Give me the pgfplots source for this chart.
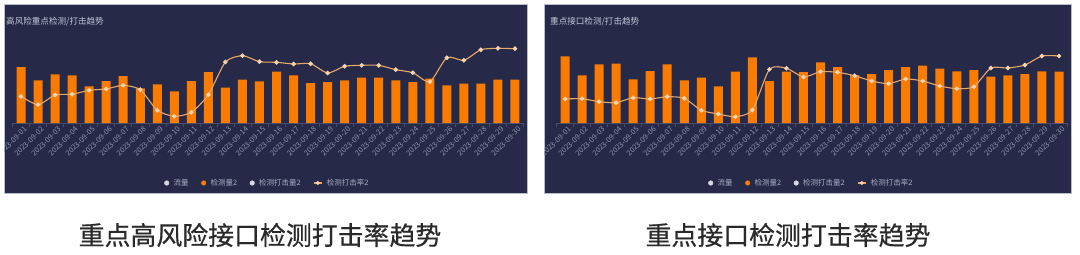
\documentclass[border=0pt]{standalone}
\usepackage{fontspec}
\setmainfont{Noto Sans CJK SC}
\newfontfamily\capfont{Noto Sans CJK SC}[FakeBold=0.5]
\usepackage{pgfplots}
\pgfplotsset{compat=1.18}
\usepackage{pgfplotstable}

\definecolor{panelbg}{HTML}{262A48}
\definecolor{panelbd}{HTML}{B9BCC9}
\definecolor{barc}{HTML}{F97B00}
\definecolor{linec}{HTML}{E8A86A}
\definecolor{markc}{HTML}{F6D3AE}
\definecolor{labelc}{HTML}{8C92AC}
\definecolor{titlec}{HTML}{C3C7D8}
\definecolor{legc}{HTML}{A9AEC4}
\definecolor{dotc}{HTML}{D6D8E0}
\definecolor{tickc}{HTML}{454B6A}
\definecolor{capc}{HTML}{2A2A2A}

\pgfplotstableread{
x bar rate
0 56 26.7
1 42.7 18.3
2 48.7 28
3 47.7 28.7
4 36.7 32.7
5 42 34
6 47 37.7
7 34.7 33.3
8 38.7 12.7
9 31.7 6.7
10 42 10.7
11 51 28.3
12 35.3 61
13 43.3 67.3
14 41.7 61.3
15 51.3 60.7
16 47.7 59
17 40 59.3
18 41 50
19 42.7 56.7
20 45.3 57.7
21 45.3 57.7
22 42.7 53.3
23 41 50.3
24 44.3 41.3
25 37.7 65.3
26 39.3 62.7
27 39.3 73.3
28 43.3 74.7
29 43.3 74.3
}\dataA

\pgfplotstableread{
x bar rate
0 66.7 24
1 47.7 24.3
2 58.7 21.3
3 59.3 20.3
4 43.7 25.3
5 52 24
6 58.7 26.3
7 42.7 24.7
8 45.3 12.7
9 36.7 9
10 51.3 6.3
11 65.7 13
12 42 53.7
13 51.3 54.7
14 51 46
15 60.7 51.3
16 56 50.7
17 48 47.3
18 49 42
19 53 39.3
20 56 44
21 57.3 42
22 54.3 37
23 51.7 34.3
24 53 36.3
25 46.3 55
26 47.7 55
27 49 58
28 51.7 67
29 51.3 67
}\dataB

\pgfplotsset{
  panel/.style={
    scale only axis, width=511bp, height=100bp,
    anchor=south west,
    xmin=-0.5, xmax=29.5, ymin=0, ymax=100,
    axis x line=bottom, axis y line=none,
    x axis line style={draw=tickc, line width=0.5bp, -},
    tick align=outside,
    xtick={0,...,29},
    xticklabels={2023-09-01,2023-09-02,2023-09-03,2023-09-04,2023-09-05,2023-09-06,2023-09-07,2023-09-08,2023-09-09,2023-09-10,2023-09-11,2023-09-12,2023-09-13,2023-09-14,2023-09-15,2023-09-16,2023-09-17,2023-09-18,2023-09-19,2023-09-20,2023-09-21,2023-09-22,2023-09-23,2023-09-24,2023-09-25,2023-09-26,2023-09-27,2023-09-28,2023-09-29,2023-09-30},
    major tick length=0pt,
    minor xtick={-0.5,0.5,...,29.5},
    minor tick length=4bp,
    minor tick style={draw=tickc, line width=0.5bp},
    x tick label style={rotate=45, anchor=north east, font=\fontsize{7.4}{8}\selectfont, text=labelc, inner sep=0.3bp, yshift=-3.5bp},
    legend columns=4,
    legend style={at={(0.2965,-0.6)}, anchor=west, draw=none, fill=none,
      font=\fontsize{7.5}{8}\selectfont, text=legc, inner sep=0pt,
      nodes={inner sep=0.5bp},
      /tikz/every odd column/.style={column sep=4bp},
      /tikz/every even column/.style={column sep=12bp}},
  },
  dotimg/.style={legend image code/.code={\fill[#1] (0bp,0bp) circle (2.3bp);}},
}

\begin{document}
\begin{tikzpicture}[x=1bp,y=1bp]
\fill[white] (0,0) rectangle (1080,254);
% panels
\fill[panelbg] (4,61) rectangle (527,250);
\draw[panelbd, line width=0.8bp] (4,61) rectangle (527,250);
\fill[panelbg] (544,61) rectangle (1071,250);
\draw[panelbd, line width=0.8bp] (544,61) rectangle (1071,250);

\node[anchor=west, inner sep=0pt, font=\fontsize{8.6}{9}\selectfont, text=titlec] at (6,232) {高风险重点检测/打击趋势};
\node[anchor=west, inner sep=0pt, font=\fontsize{8.6}{9}\selectfont, text=titlec] at (550,232) {重点接口检测/打击趋势};

\begin{scope}
\clip (4,61) rectangle (527,250);
\begin{axis}[panel, at={(12.5bp,131bp)}]
\addplot[ybar, bar width=9bp, fill=barc, draw=none, forget plot] table[x=x,y=bar] {\dataA};
\addplot[smooth, tension=0.4, draw=linec, line width=1.1bp, mark=*, mark size=1.7bp, mark options={fill=markc, draw=markc}, forget plot] table[x=x,y=rate] {\dataA};
\addlegendimage{dotimg=dotc}
\addlegendentry{流量}
\addlegendimage{dotimg=barc}
\addlegendentry{检测量2}
\addlegendimage{dotimg=dotc}
\addlegendentry{检测打击量2}
\addlegendimage{legend image code/.code={\draw[linec, line width=1.2bp] (-4bp,0bp)--(4bp,0bp); \fill[markc] (0bp,0bp) circle (1.8bp);}}
\addlegendentry{检测打击率2}
\end{axis}
\end{scope}

\begin{scope}
\clip (544,61) rectangle (1071,250);
\begin{axis}[panel, at={(556.5bp,131bp)}]
\addplot[ybar, bar width=9bp, fill=barc, draw=none, forget plot] table[x=x,y=bar] {\dataB};
\addplot[smooth, tension=0.4, draw=linec, line width=1.1bp, mark=*, mark size=1.7bp, mark options={fill=markc, draw=markc}, forget plot] table[x=x,y=rate] {\dataB};
\addlegendimage{dotimg=dotc}
\addlegendentry{流量}
\addlegendimage{dotimg=barc}
\addlegendentry{检测量2}
\addlegendimage{dotimg=dotc}
\addlegendentry{检测打击量2}
\addlegendimage{legend image code/.code={\draw[linec, line width=1.2bp] (-4bp,0bp)--(4bp,0bp); \fill[markc] (0bp,0bp) circle (1.8bp);}}
\addlegendentry{检测打击率2}
\end{axis}
\end{scope}

\node[font=\capfont\fontsize{26}{28}\selectfont, text=capc] at (260,19) {重点高风险接口检测打击率趋势};
\node[font=\capfont\fontsize{26}{28}\selectfont, text=capc] at (788,19) {重点接口检测打击率趋势};
\end{tikzpicture}
\end{document}
